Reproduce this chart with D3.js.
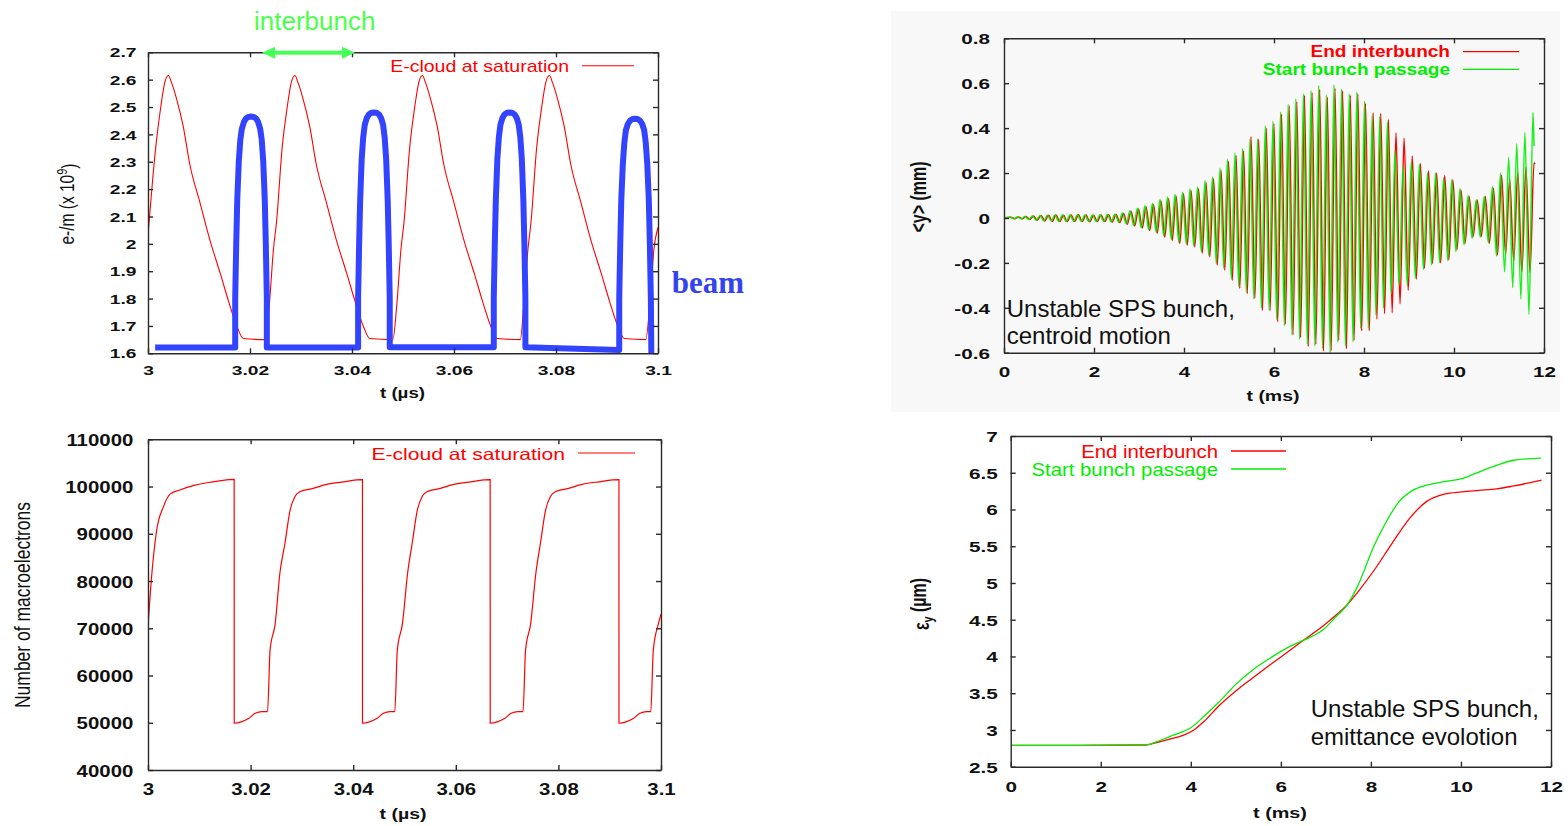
<!DOCTYPE html>
<html><head><meta charset="utf-8">
<script src="https://cdnjs.cloudflare.com/ajax/libs/d3/7.8.5/d3.min.js"></script>
<style>body{margin:0;background:#fff;}svg{display:block;}</style>
</head><body>
<svg id="c" width="1568" height="826"></svg>
<script>
// ---------------- DATA ----------------
// Top-left: e-cloud line density (x 10^9 e-/m) vs t (us)
const tlXTicks = [3, 3.02, 3.04, 3.06, 3.08, 3.1];
const tlXLabels = ["3", "3.02", "3.04", "3.06", "3.08", "3.1"];
const tlYTicks = [1.6, 1.7, 1.8, 1.9, 2.0, 2.1, 2.2, 2.3, 2.4, 2.5, 2.6, 2.7];
const tlYLabels = ["1.6", "1.7", "1.8", "1.9", "2", "2.1", "2.2", "2.3", "2.4", "2.5", "2.6", "2.7"];
const ecloudDensity = [
  [3.0000, 2.03], [3.0015, 2.35], [3.0025, 2.50], [3.0033, 2.59], [3.0040, 2.615],
  [3.0046, 2.59], [3.0056, 2.53], [3.0069, 2.43], [3.0082, 2.29], [3.0102, 2.15], [3.0122, 2.01], [3.0142, 1.89], [3.0158, 1.79], [3.0174, 1.70], [3.0187, 1.654],
  [3.0230, 1.65],
  [3.0238, 1.78], [3.0246, 1.98], [3.0252, 2.08], [3.0263, 2.35], [3.0273, 2.50], [3.0281, 2.59], [3.0288, 2.615],
  [3.0294, 2.59], [3.0304, 2.53], [3.0317, 2.43], [3.0330, 2.29], [3.0350, 2.15], [3.0370, 2.01], [3.0390, 1.89], [3.0406, 1.79], [3.0422, 1.70], [3.0435, 1.654],
  [3.0480, 1.65],
  [3.0488, 1.78], [3.0496, 1.98], [3.0502, 2.08], [3.0513, 2.35], [3.0523, 2.50], [3.0531, 2.59], [3.0538, 2.615],
  [3.0544, 2.59], [3.0554, 2.53], [3.0567, 2.43], [3.0580, 2.29], [3.0600, 2.15], [3.0620, 2.01], [3.0640, 1.89], [3.0656, 1.79], [3.0672, 1.70], [3.0685, 1.654],
  [3.0730, 1.65],
  [3.0737, 1.78], [3.0745, 1.98], [3.0751, 2.08], [3.0762, 2.35], [3.0772, 2.50], [3.0780, 2.59], [3.0787, 2.615],
  [3.0793, 2.59], [3.0803, 2.53], [3.0816, 2.43], [3.0829, 2.29], [3.0849, 2.15], [3.0869, 2.01], [3.0889, 1.89], [3.0905, 1.79], [3.0921, 1.70], [3.0934, 1.654],
  [3.0976, 1.65],
  [3.0984, 1.78], [3.0992, 1.98], [3.1000, 2.06]
];
// beam longitudinal profile (arbitrary units on the same axis)
const beamProfile = [
  [3.0014, 1.621],
  [3.0171, 1.621], [3.0171, 1.80], [3.0173, 2.00], [3.0175, 2.16], [3.0178, 2.30], [3.0181, 2.38], [3.0184, 2.42], [3.0188, 2.445], [3.0192, 2.458], [3.0197, 2.464], [3.0202, 2.465],
  [3.0207, 2.464], [3.0212, 2.458], [3.0216, 2.445], [3.0220, 2.42], [3.0223, 2.38], [3.0226, 2.30], [3.0229, 2.16], [3.0231, 2.00], [3.0233, 1.80], [3.0233, 1.621],
  [3.0412, 1.621], [3.0412, 1.80], [3.0414, 2.00], [3.0416, 2.16], [3.0419, 2.31], [3.0422, 2.39], [3.0425, 2.435], [3.0429, 2.46], [3.0433, 2.473], [3.0438, 2.479], [3.0443, 2.48],
  [3.0448, 2.479], [3.0453, 2.473], [3.0457, 2.46], [3.0461, 2.435], [3.0464, 2.39], [3.0467, 2.31], [3.0470, 2.16], [3.0472, 2.00], [3.0474, 1.80], [3.0474, 1.622],
  [3.0678, 1.622], [3.0678, 1.80], [3.0680, 2.00], [3.0682, 2.16], [3.0685, 2.31], [3.0688, 2.39], [3.0691, 2.435], [3.0695, 2.46], [3.0699, 2.473], [3.0704, 2.479], [3.0709, 2.48],
  [3.0714, 2.479], [3.0719, 2.473], [3.0723, 2.46], [3.0727, 2.435], [3.0730, 2.39], [3.0733, 2.31], [3.0736, 2.16], [3.0738, 2.00], [3.0740, 1.80], [3.0740, 1.622],
  [3.0924, 1.612], [3.0924, 1.80], [3.0926, 2.00], [3.0928, 2.16], [3.0931, 2.29], [3.0934, 2.37], [3.0937, 2.415], [3.0941, 2.438], [3.0945, 2.45], [3.0950, 2.456], [3.0955, 2.457],
  [3.0960, 2.456], [3.0965, 2.45], [3.0969, 2.438], [3.0973, 2.415], [3.0976, 2.37], [3.0979, 2.29], [3.0982, 2.16], [3.0984, 2.00], [3.0986, 1.80], [3.0987, 1.58]
];

// Bottom-left: number of macroelectrons vs t (us)
const blXTicks = [3, 3.02, 3.04, 3.06, 3.08, 3.1];
const blXLabels = ["3", "3.02", "3.04", "3.06", "3.08", "3.1"];
const blYTicks = [40000, 50000, 60000, 70000, 80000, 90000, 100000, 110000];
const blYLabels = ["40000", "50000", "60000", "70000", "80000", "90000", "100000", "110000"];
const macroElectrons = [
  [3.0000, 70300], [3.0007, 80900], [3.0017, 90800], [3.0030, 95700], [3.0043, 98400], [3.0062, 99270], [3.0088, 100180], [3.0115, 100800], [3.0140, 101200], [3.0168, 101500],
  [3.01681, 49900], [3.0182, 50200], [3.0196, 50900], [3.0209, 52000], [3.0222, 52350], [3.0233, 52350],
  [3.0238, 65400], [3.0248, 71000], [3.0257, 81600], [3.0267, 88000], [3.0277, 95000], [3.0287, 98000], [3.0296, 98900], [3.0322, 99600], [3.0348, 100450], [3.0381, 101000], [3.0418, 101450],
  [3.04181, 49900], [3.0432, 50200], [3.0446, 50900], [3.0459, 52000], [3.0472, 52350], [3.0481, 52350],
  [3.0486, 65400], [3.0496, 71000], [3.0506, 81600], [3.0515, 88000], [3.0525, 95000], [3.0535, 98000], [3.0544, 98900], [3.0570, 99600], [3.0596, 100450], [3.0629, 101000], [3.0667, 101450],
  [3.06671, 49900], [3.0681, 50200], [3.0695, 50900], [3.0708, 52000], [3.0721, 52350], [3.0731, 52350],
  [3.0736, 65400], [3.0746, 71000], [3.0756, 81600], [3.0765, 88000], [3.0775, 95000], [3.0785, 98000], [3.0794, 98900], [3.0820, 99600], [3.0846, 100450], [3.0879, 101000], [3.0918, 101450],
  [3.09181, 49900], [3.0932, 50200], [3.0946, 50900], [3.0959, 52000], [3.0972, 52350], [3.0980, 52350],
  [3.0985, 65400], [3.0995, 71000], [3.1000, 73000]
];

// Top-right: centroid <y> (mm) vs t (ms), extremes of the oscillation
const trXTicks = [0, 2, 4, 6, 8, 10, 12];
const trXLabels = ["0", "2", "4", "6", "8", "10", "12"];
const trYTicks = [-0.6, -0.4, -0.2, 0, 0.2, 0.4, 0.6, 0.8];
const trYLabels = ["-0.6", "-0.4", "-0.2", "0", "0.2", "0.4", "0.6", "0.8"];
const centroidT = [
  0,
  0.155, 0.238, 0.322, 0.405, 0.488, 0.572, 0.655, 0.738, 0.822, 0.905,
  0.989, 1.072, 1.155, 1.238, 1.322, 1.405, 1.489, 1.572, 1.655, 1.738,
  1.822, 1.905, 1.989, 2.072, 2.155, 2.238, 2.322, 2.405, 2.489, 2.572,
  2.656, 2.739, 2.822, 2.905, 2.989, 3.072, 3.156, 3.239, 3.322, 3.405,
  3.489, 3.572, 3.656, 3.739, 3.823, 3.906, 3.989, 4.072, 4.156, 4.239,
  4.323, 4.406, 4.489, 4.572, 4.656, 4.739, 4.823, 4.906, 4.990, 5.073,
  5.156, 5.239, 5.323, 5.406, 5.489,
  5.574, 5.659, 5.743, 5.828, 5.913, 5.998, 6.082, 6.167, 6.252, 6.337,
  6.422, 6.507, 6.591, 6.676, 6.761, 6.846, 6.930, 7.015, 7.100, 7.185,
  7.270, 7.355, 7.439, 7.524, 7.609, 7.694, 7.778, 7.863, 7.948, 8.033,
  8.118, 8.203, 8.287, 8.372, 8.457, 8.542, 8.626, 8.711,
  8.801, 8.891, 8.982, 9.072, 9.162, 9.252, 9.343, 9.433, 9.523, 9.613,
  9.703, 9.793, 9.884, 9.974, 10.064, 10.154, 10.245, 10.335, 10.425, 10.515,
  10.605, 10.695, 10.786, 10.876, 10.966, 11.056, 11.147, 11.237, 11.327, 11.417,
  11.508, 11.598, 11.688, 11.778, 11.800
];
const centroidEndInterbunch = [
  0,
  0.003, -0.003, 0.004, -0.004, 0.006, -0.007, 0.009, -0.010, 0.011, -0.013,
  0.012, -0.015, 0.013, -0.016, 0.012, -0.016, 0.013, -0.015, 0.014, -0.016,
  0.013, -0.017, 0.012, -0.016, 0.013, -0.016, 0.014, -0.018, 0.015, -0.020,
  0.020, -0.028, 0.030, -0.035, 0.040, -0.045, 0.050, -0.056, 0.060, -0.068,
  0.076, -0.085, 0.086, -0.100, 0.098, -0.113, 0.108, -0.121, 0.122, -0.128,
  0.130, -0.157, 0.158, -0.173, 0.175, -0.211, 0.212, -0.232, 0.252, -0.278,
  0.278, -0.313, 0.298, -0.337, 0.362,
  -0.358, 0.350, -0.412, 0.400, -0.412, 0.420, -0.462, 0.462, -0.472, 0.498,
  -0.520, 0.518, -0.532, 0.545, -0.572, 0.558, -0.562, 0.572, -0.592, 0.538,
  -0.590, 0.578, -0.545, 0.565, -0.582, 0.545, -0.545, 0.552, -0.502, 0.510,
  -0.502, 0.468, -0.450, 0.465, -0.426, 0.438, -0.422, 0.378,
  -0.382, 0.355, -0.322, 0.276, -0.272, 0.243, -0.224, 0.210, -0.202, 0.200,
  -0.200, 0.190, -0.187, 0.170, -0.142, 0.125, -0.113, 0.095, -0.083, 0.080,
  -0.083, 0.095, -0.113, 0.132, -0.165, 0.190, -0.162, 0.172, -0.190, 0.205,
  -0.240, 0.225, -0.242, 0.245, 0.240
];
const centroidStartBunch = [
  0,
  0.003, -0.003, 0.004, -0.004, 0.006, -0.007, 0.009, -0.010, 0.011, -0.012,
  0.012, -0.014, 0.013, -0.015, 0.013, -0.015, 0.013, -0.015, 0.014, -0.015,
  0.013, -0.016, 0.013, -0.016, 0.014, -0.015, 0.015, -0.017, 0.016, -0.019,
  0.022, -0.026, 0.032, -0.033, 0.043, -0.043, 0.054, -0.053, 0.065, -0.065,
  0.082, -0.080, 0.092, -0.095, 0.105, -0.108, 0.115, -0.116, 0.130, -0.124,
  0.138, -0.150, 0.166, -0.166, 0.184, -0.203, 0.222, -0.224, 0.262, -0.270,
  0.288, -0.305, 0.308, -0.330, 0.352,
  -0.360, 0.352, -0.402, 0.410, -0.410, 0.430, -0.452, 0.472, -0.480, 0.505,
  -0.520, 0.530, -0.540, 0.552, -0.562, 0.566, -0.570, 0.590, -0.582, 0.548,
  -0.600, 0.592, -0.552, 0.574, -0.570, 0.552, -0.552, 0.560, -0.492, 0.520,
  -0.492, 0.458, -0.432, 0.452, -0.402, 0.426, -0.338, 0.300,
  -0.300, 0.232, -0.300, 0.250, -0.268, 0.240, -0.230, 0.200, -0.210, 0.200,
  -0.200, 0.180, -0.190, 0.170, -0.150, 0.130, -0.120, 0.100, -0.090, 0.080,
  -0.085, 0.095, -0.110, 0.140, -0.170, 0.200, -0.240, 0.270, -0.310, 0.330,
  -0.360, 0.380, -0.430, 0.470, 0.320
];

// Bottom-right: emittance (um) vs t (ms)
const brXTicks = [0, 2, 4, 6, 8, 10, 12];
const brXLabels = ["0", "2", "4", "6", "8", "10", "12"];
const brYTicks = [2.5, 3, 3.5, 4, 4.5, 5, 5.5, 6, 6.5, 7];
const brYLabels = ["2.5", "3", "3.5", "4", "4.5", "5", "5.5", "6", "6.5", "7"];
const emittanceEndInterbunch = [
  [0, 2.79], [1.5, 2.79], [2.99, 2.795], [3.22, 2.826], [3.53, 2.875], [3.84, 2.93], [4.07, 3.00], [4.30, 3.12],
  [4.61, 3.32], [5.00, 3.53], [5.38, 3.71], [5.77, 3.89], [6.15, 4.06], [6.50, 4.22], [6.93, 4.41], [7.24, 4.57],
  [7.47, 4.70], [7.70, 4.87], [8.08, 5.18], [8.47, 5.54], [8.86, 5.88], [9.24, 6.11], [9.63, 6.21], [10.02, 6.24],
  [10.40, 6.26], [10.79, 6.28], [11.17, 6.32], [11.79, 6.40]
];
const emittanceStartBunch = [
  [0, 2.79], [1.5, 2.79], [2.99, 2.796], [3.22, 2.835], [3.53, 2.91], [3.84, 2.98], [4.00, 3.03], [4.30, 3.19],
  [4.61, 3.37], [5.00, 3.62], [5.38, 3.82], [5.77, 3.98], [6.15, 4.12], [6.50, 4.22], [6.93, 4.36], [7.24, 4.55],
  [7.47, 4.70], [7.70, 4.95], [8.08, 5.52], [8.32, 5.81], [8.63, 6.11], [8.93, 6.26], [9.24, 6.33], [9.63, 6.38],
  [10.02, 6.42], [10.32, 6.49], [10.79, 6.60], [11.17, 6.67], [11.78, 6.70]
];

// ---------------- DRAWING ----------------
const svg = d3.select("#c");
svg.append("rect").attr("width", 1568).attr("height", 826).attr("fill", "#fff");
svg.append("rect").attr("x", 891).attr("y", 11).attr("width", 669).attr("height", 401).attr("fill", "#f8f8f8");

const SANS = "'Liberation Sans', Arial, Helvetica, sans-serif";
const RED = "#ff0000", GREEN = "#00ee00", BLUE = "#3344ff";

function panel(o) {
  const x = d3.scaleLinear().domain(o.xd).range([o.left, o.right]);
  const y = d3.scaleLinear().domain(o.yd).range([o.bottom, o.top]);
  const g = svg.append("g");
  const cid = "clip-" + o.id;
  g.append("clipPath").attr("id", cid).append("rect")
    .attr("x", o.left).attr("y", o.top).attr("width", o.right - o.left).attr("height", o.bottom - o.top);
  const plot = g.append("g").attr("clip-path", `url(#${cid})`);
  const ax = g.append("g");
  const b = ax.append("g").attr("transform", `translate(0,${o.bottom})`)
    .call(d3.axisBottom(x).tickValues(o.xt).tickFormat((d, i) => o.xl[i]).tickSizeInner(-5).tickSizeOuter(0));
  ax.append("g").attr("transform", `translate(0,${o.top})`)
    .call(d3.axisTop(x).tickValues(o.xt).tickFormat(() => "").tickSizeInner(-5).tickSizeOuter(0));
  const l = ax.append("g").attr("transform", `translate(${o.left},0)`)
    .call(d3.axisLeft(y).tickValues(o.yt).tickFormat((d, i) => o.yl[i]).tickSizeInner(-5).tickSizeOuter(0));
  ax.append("g").attr("transform", `translate(${o.right},0)`)
    .call(d3.axisRight(y).tickValues(o.yt).tickFormat(() => "").tickSizeInner(-5).tickSizeOuter(0));
  ax.selectAll(".domain, .tick line").attr("stroke", "#2a2a2a").attr("stroke-width", 1.4);
  ax.selectAll("text").attr("fill", "#111")
    .style("font-family", SANS).style("font-weight", "bold").style("font-size", o.fs + "px");
  b.selectAll("text").attr("y", o.xOff).attr("dy", 0).attr("transform", `scale(${o.sx},1)`);
  l.selectAll("text").attr("x", -o.yGap / o.sx).attr("dy", "0.36em").attr("transform", `scale(${o.sx},1)`);
  return { x, y, plot };
}

function text(x, y, str, o = {}) {
  const t = svg.append("text")
    .attr("transform", `translate(${x},${y}) rotate(${o.rot || 0}) scale(${o.sx || 1},${o.sy || 1})`)
    .attr("text-anchor", o.anchor || "start")
    .attr("fill", o.fill || "#111")
    .style("font-family", o.family || SANS)
    .style("font-weight", o.weight || "normal")
    .style("font-size", (o.size || 14) + "px");
  if (str !== null) t.text(str);
  return t;
}

function legendLine(x1, x2, y, color, w) {
  svg.append("line").attr("x1", x1).attr("x2", x2).attr("y1", y).attr("y2", y)
    .attr("stroke", color).attr("stroke-width", w);
}

// ---- Top-left ----
{
  const p = panel({ id: "tl", xd: [3, 3.1], yd: [1.6, 2.7], left: 148, right: 658, top: 52.3, bottom: 353.3,
    xt: tlXTicks, xl: tlXLabels, yt: tlYTicks, yl: tlYLabels, fs: 13, sx: 1.48, xOff: 22, yGap: 11.5 });
  p.plot.append("path").datum(ecloudDensity)
    .attr("d", d3.line().curve(d3.curveMonotoneX).x(d => p.x(d[0])).y(d => p.y(d[1])))
    .attr("fill", "none").attr("stroke", RED).attr("stroke-width", 1.1);
  p.plot.append("path").datum(beamProfile).attr("d", d3.line().x(d => p.x(d[0])).y(d => p.y(d[1])))
    .attr("fill", "none").attr("stroke", BLUE).attr("stroke-width", 6).attr("stroke-linejoin", "round");
  text(569, 71.7, "E-cloud at saturation", { size: 16, sx: 1.22, anchor: "end", fill: RED });
  legendLine(582, 634, 65.7, RED, 1.1);
  text(402.5, 398, "t (\u00b5s)", { size: 15, sx: 1.25, anchor: "middle", weight: "bold" });
  const yl = text(73.6, 204, null, { size: 15.5, rot: -90, sy: 1.35, anchor: "middle" });
  yl.append("tspan").text("e-/m (x 10");
  yl.append("tspan").attr("dy", "-0.45em").style("font-size", "11px").text("9");
  yl.append("tspan").attr("dy", "0.45em").text(")");
  // interbunch arrow + labels
  text(254, 29.5, "interbunch", { size: 26, fill: "#4cff4c" });
  const ag = svg.append("g").attr("fill", "#44ff55").attr("stroke", "none");
  ag.append("rect").attr("x", 272).attr("y", 50.7).attr("width", 73).attr("height", 4);
  ag.append("path").attr("d", "M262,52.7L275,46.7L275,58.7Z");
  ag.append("path").attr("d", "M355,52.7L342,46.7L342,58.7Z");
  text(671.7, 293, "beam", { size: 31, weight: "bold", fill: "#3344ee", family: "'Liberation Serif', 'Times New Roman', serif" });
}

// ---- Bottom-left ----
{
  const p = panel({ id: "bl", xd: [3, 3.1], yd: [40000, 110000], left: 148, right: 661, top: 439.3, bottom: 770,
    xt: blXTicks, xl: blXLabels, yt: blYTicks, yl: blYLabels, fs: 17, sx: 1.2, xOff: 25, yGap: 14.7 });
  p.plot.append("path").datum(macroElectrons)
    .attr("d", d3.line().curve(d3.curveMonotoneX).x(d => p.x(d[0])).y(d => p.y(d[1])))
    .attr("fill", "none").attr("stroke", RED).attr("stroke-width", 1.2);
  text(565, 460, "E-cloud at saturation", { size: 16.5, sx: 1.28, anchor: "end", fill: RED });
  legendLine(578, 635, 453, RED, 1.2);
  text(403, 819, "t (\u00b5s)", { size: 15, sx: 1.3, anchor: "middle", weight: "bold" });
  text(30, 605, "Number of macroelectrons", { size: 17.5, rot: -90, sy: 1.3, anchor: "middle" });
}

// ---- Top-right ----
{
  const p = panel({ id: "tr", xd: [0, 12], yd: [-0.6, 0.8], left: 1004, right: 1544, top: 38.3, bottom: 352.7,
    xt: trXTicks, xl: trXLabels, yt: trYTicks, yl: trYLabels, fs: 15, sx: 1.38, xOff: 24, yGap: 14 });
  const line = d3.line().curve(d3.curveMonotoneX).x(d => p.x(d[0])).y(d => p.y(d[1]));
  const red = centroidT.map((t, i) => [t, centroidEndInterbunch[i]]);
  const green = centroidT.map((t, i) => [t, centroidStartBunch[i]]);
  p.plot.append("path").datum(red).attr("d", line).attr("fill", "none").attr("stroke", RED).attr("stroke-width", 1.5);
  p.plot.append("path").datum(green).attr("d", line).attr("transform", "translate(-1,0)")
    .attr("fill", "none").attr("stroke", GREEN).attr("stroke-width", 1.5).attr("stroke-opacity", 0.9);
  text(1450, 57.3, "End interbunch", { size: 16, sx: 1.19, anchor: "end", fill: RED, weight: "bold" });
  text(1450, 75, "Start bunch passage", { size: 16, sx: 1.19, anchor: "end", fill: GREEN, weight: "bold" });
  legendLine(1463, 1519, 51.7, RED, 1.3);
  legendLine(1463, 1519, 69.3, GREEN, 1.3);
  text(1273, 401, "t (ms)", { size: 15, sx: 1.3, anchor: "middle", weight: "bold" });
  text(925.5, 197, "<y> (mm)", { size: 16, rot: -90, sy: 1.35, anchor: "middle", weight: "bold" });
  text(1006.7, 316.7, "Unstable SPS bunch,", { size: 24 });
  text(1006.7, 344.3, "centroid motion", { size: 24 });
}

// ---- Bottom-right ----
{
  const p = panel({ id: "br", xd: [0, 12], yd: [2.5, 7], left: 1010.7, right: 1551, top: 436, bottom: 766.7,
    xt: brXTicks, xl: brXLabels, yt: brYTicks, yl: brYLabels, fs: 15, sx: 1.38, xOff: 25, yGap: 13 });
  const line = d3.line().curve(d3.curveMonotoneX).x(d => p.x(d[0])).y(d => p.y(d[1]));
  p.plot.append("path").datum(emittanceEndInterbunch).attr("d", line).attr("fill", "none").attr("stroke", RED).attr("stroke-width", 1.3);
  p.plot.append("path").datum(emittanceStartBunch).attr("d", line).attr("fill", "none").attr("stroke", GREEN).attr("stroke-width", 1.3);
  text(1218, 458.3, "End interbunch", { size: 18.5, sx: 1.1, anchor: "end", fill: RED });
  text(1218, 476, "Start bunch passage", { size: 18.5, sx: 1.1, anchor: "end", fill: GREEN });
  legendLine(1231, 1286, 451, RED, 1.3);
  legendLine(1231, 1286, 469, GREEN, 1.3);
  text(1280, 818, "t (ms)", { size: 15, sx: 1.32, anchor: "middle", weight: "bold" });
  const yl = text(928.5, 604, null, { size: 16, rot: -90, sy: 1.35, anchor: "middle", weight: "bold" });
  yl.append("tspan").text("\u03b5");
  yl.append("tspan").attr("dy", "0.3em").style("font-size", "11px").text("y");
  yl.append("tspan").attr("dy", "-0.3em").text(" (\u00b5m)");
  text(1310.7, 717, "Unstable SPS bunch,", { size: 24 });
  text(1310.7, 745, "emittance evolotion", { size: 24 });
}
</script>
</body></html>
